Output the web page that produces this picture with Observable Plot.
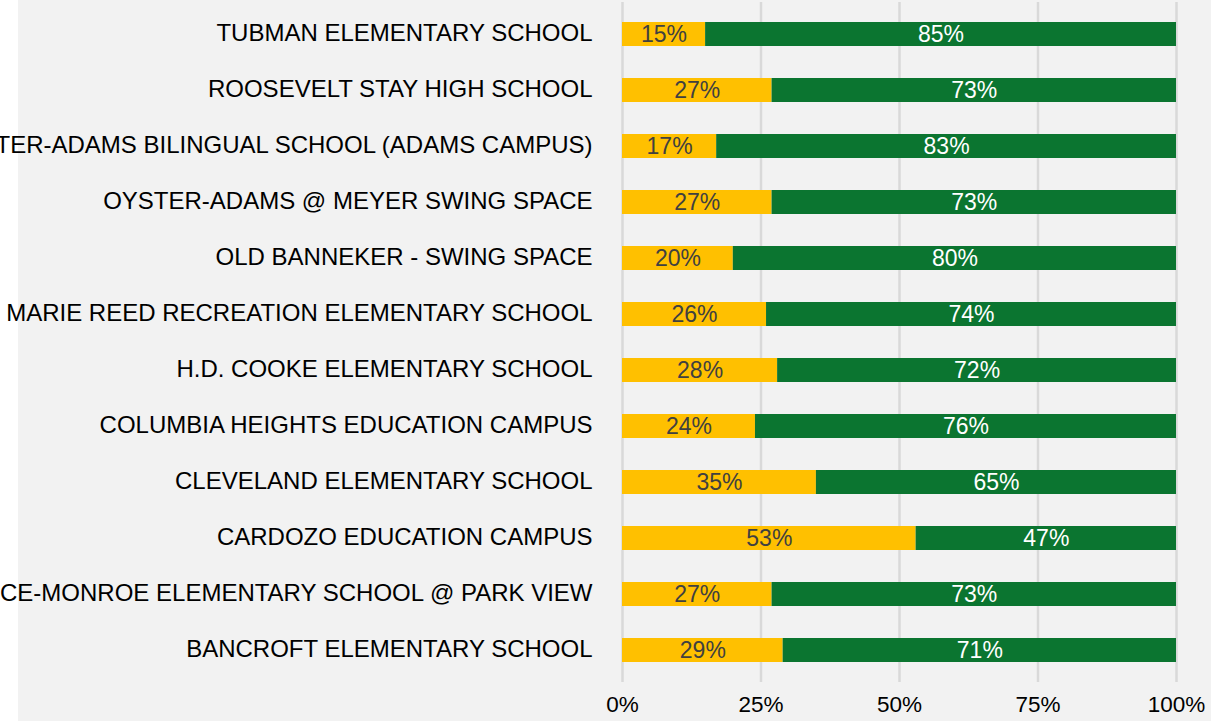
<!DOCTYPE html>
<html>
<head>
<meta charset="utf-8">
<script src="https://cdn.jsdelivr.net/npm/d3@7"></script>
<script src="https://cdn.jsdelivr.net/npm/@observablehq/plot@0.6"></script>
<style>
  html, body { margin: 0; padding: 0; background: #ffffff; overflow: hidden; }
  #chart svg { display: block; }
</style>
</head>
<body>
<div id="chart"></div>
<script>
const schools = [
  "TUBMAN ELEMENTARY SCHOOL",
  "ROOSEVELT STAY HIGH SCHOOL",
  "OYSTER-ADAMS BILINGUAL SCHOOL (ADAMS CAMPUS)",
  "OYSTER-ADAMS @ MEYER SWING SPACE",
  "OLD BANNEKER - SWING SPACE",
  "MARIE REED RECREATION ELEMENTARY SCHOOL",
  "H.D. COOKE ELEMENTARY SCHOOL",
  "COLUMBIA HEIGHTS EDUCATION CAMPUS",
  "CLEVELAND ELEMENTARY SCHOOL",
  "CARDOZO EDUCATION CAMPUS",
  "BRUCE-MONROE ELEMENTARY SCHOOL @ PARK VIEW",
  "BANCROFT ELEMENTARY SCHOOL"
];
const yellowPct = [15, 27, 17, 27, 20, 26, 28, 24, 35, 53, 27, 29];
const greenPct  = [85, 73, 83, 73, 80, 74, 72, 76, 65, 47, 73, 71];
const xTicks = [0, 25, 50, 75, 100];

const rows = schools.map((s, i) => ({school: s, a: yellowPct[i], b: greenPct[i]}));

const YELLOW = "#FFC000";
const GREEN = "#0B7530";
const FONT = "'Liberation Sans', Arial, Helvetica, sans-serif";

const chart = Plot.plot({
  width: 1211,
  height: 721,
  marginLeft: 622,
  marginRight: 35,
  marginTop: 2,
  marginBottom: 39,
  style: {
    fontFamily: FONT,
    fontSize: "23px",
    color: "#000",
    background: "linear-gradient(to right, #ffffff 0px, #ffffff 18px, #f2f2f2 18px)",
    overflow: "visible"
  },
  x: {domain: [0, 100], ticks: xTicks},
  y: {domain: schools, paddingInner: 0.5775, paddingOuter: 0.341},
  marks: [
    Plot.gridX(xTicks, {stroke: "#d9d9d9", strokeWidth: 2.5, strokeOpacity: 1}),
    Plot.barX(rows, {x1: 0, x2: "a", y: "school", fill: YELLOW}),
    Plot.barX(rows, {x1: "a", x2: d => d.a + d.b, y: "school", fill: GREEN}),
    Plot.text(rows, {x: d => d.a / 2, y: "school", text: d => d.a + "%", fill: "#404040", fontSize: 23, dy: 0}),
    Plot.text(rows, {x: d => d.a + d.b / 2, y: "school", text: d => d.b + "%", fill: "#ffffff", fontSize: 23, dy: 0}),
    Plot.axisY({tickSize: 0, tickPadding: 30, fontSize: 24, dy: -1, label: null}),
    Plot.axisX(xTicks, {tickSize: 0, tickPadding: 13.5, fontSize: 22.5, label: null, tickFormat: d => d + "%"})
  ]
});
document.getElementById("chart").appendChild(chart);
</script>
</body>
</html>
